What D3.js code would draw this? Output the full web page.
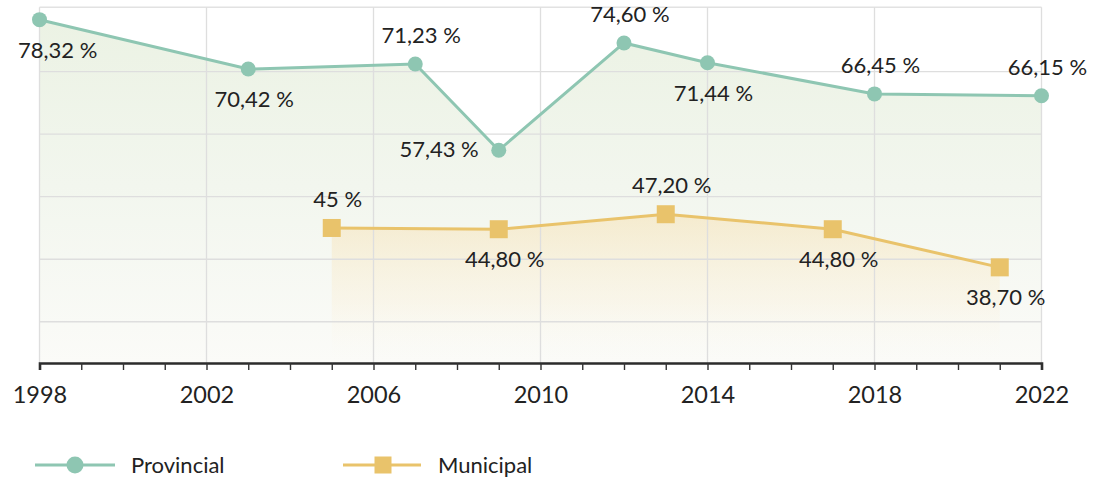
<!DOCTYPE html>
<html>
<head>
<meta charset="utf-8">
<script src="https://cdn.jsdelivr.net/npm/d3@7"></script>
<style>
  html, body { margin: 0; padding: 0; background: #ffffff; }
  svg { display: block; }
  text { font-family: Lato, "Open Sans", sans-serif; fill: #222; }
</style>
</head>
<body>
<svg id="chart" width="1096" height="479"></svg>
<script>
// ---- data ----
const provincialYears = [1998, 2003, 2007, 2009, 2012, 2014, 2018, 2022];
const provincialValues = [78.32, 70.42, 71.23, 57.43, 74.60, 71.44, 66.45, 66.15];
const provincialLabels = ["78,32 %", "70,42 %", "71,23 %", "57,43 %", "74,60 %", "71,44 %", "66,45 %", "66,15 %"];

const municipalYears = [2005, 2009, 2013, 2017, 2021];
const municipalValues = [45, 44.80, 47.20, 44.80, 38.70];
const municipalLabels = ["45 %", "44,80 %", "47,20 %", "44,80 %", "38,70 %"];

const xTickLabels = ["1998", "2002", "2006", "2010", "2014", "2018", "2022"];
const yGridValues = [30, 40, 50, 60, 70];
const seriesNames = ["Provincial", "Municipal"];

// label placement (layout config)
const provincialPlacement = ["below", "below", "above", "left", "above", "below", "above", "above"];
const municipalPlacement = ["above", "below", "above", "below", "below"];

// ---- layout ----
const GREEN = "#8ec6b2";
const YELLOW = "#e9c36b";
const svg = d3.select("#chart");

const x = d3.scaleLinear().domain([1998, 2022]).range([39.5, 1041.5]);
const y = d3.scaleLinear().domain([23.4, 80.3]).range([363, 7.3]);
const baseY = y.range()[0];
const topY = y.range()[1];

const defs = svg.append("defs");
const gP = defs.append("linearGradient").attr("id", "gradP")
  .attr("gradientUnits", "userSpaceOnUse")
  .attr("x1", 0).attr("x2", 0).attr("y1", topY).attr("y2", baseY);
gP.append("stop").attr("offset", 0).attr("stop-color", "#ebf2e3");
gP.append("stop").attr("offset", 0.5).attr("stop-color", "#f2f6ee");
gP.append("stop").attr("offset", 1).attr("stop-color", "#fbfbf8");

const gM = defs.append("linearGradient").attr("id", "gradM")
  .attr("gradientUnits", "userSpaceOnUse")
  .attr("x1", 0).attr("x2", 0).attr("y1", y(47.2)).attr("y2", baseY);
gM.append("stop").attr("offset", 0).attr("stop-color", "#f6e3b8").attr("stop-opacity", 0.6);
gM.append("stop").attr("offset", 0.6).attr("stop-color", "#faefd6").attr("stop-opacity", 0.35);
gM.append("stop").attr("offset", 1).attr("stop-color", "#fdfaf2").attr("stop-opacity", 0);

const prov = provincialYears.map((yr, i) => ({ x: yr, v: provincialValues[i], label: provincialLabels[i], pos: provincialPlacement[i] }));
const muni = municipalYears.map((yr, i) => ({ x: yr, v: municipalValues[i], label: municipalLabels[i], pos: municipalPlacement[i] }));

// areas
const area = d3.area().x(d => x(d.x)).y0(baseY).y1(d => y(d.v));
svg.append("path").datum(prov).attr("d", area).attr("fill", "url(#gradP)");
svg.append("path").datum(muni).attr("d", area).attr("fill", "url(#gradM)");

// grid
const grid = svg.append("g");
grid.selectAll("line.h").data(yGridValues).join("line")
  .attr("x1", x(1998)).attr("x2", x(2022))
  .attr("y1", d => y(d)).attr("y2", d => y(d))
  .attr("stroke", "#dedede").attr("stroke-width", 1.3);
grid.append("line").attr("x1", x(1998)).attr("x2", x(2022))
  .attr("y1", topY).attr("y2", topY).attr("stroke", "#e2e2e2").attr("stroke-width", 1.5);
grid.selectAll("line.v").data(xTickLabels).join("line")
  .attr("x1", d => x(+d)).attr("x2", d => x(+d))
  .attr("y1", topY).attr("y2", baseY)
  .attr("stroke", "#dedede").attr("stroke-width", 1.3);

// x axis
const axis = d3.axisBottom(x)
  .tickValues(d3.range(1998, 2023, 1))
  .tickSize(7)
  .tickFormat(d => xTickLabels.includes(String(d)) ? String(d) : "");
const ax = svg.append("g").attr("transform", `translate(0,${baseY})`).call(axis);
ax.select(".domain").attr("stroke", "#2b2b2b").attr("stroke-width", 2.6);
ax.selectAll(".tick line").attr("stroke", "#333").attr("stroke-width", 1.4);
ax.selectAll(".tick text").attr("y", 32).attr("dy", "0.34em")
  .style("font-family", "Lato, sans-serif").style("font-size", "23.5px").attr("fill", "#222");

// lines
const line = d3.line().x(d => x(d.x)).y(d => y(d.v));
svg.append("path").datum(prov).attr("d", line).attr("fill", "none")
  .attr("stroke", GREEN).attr("stroke-width", 3);
svg.append("path").datum(muni).attr("d", line).attr("fill", "none")
  .attr("stroke", YELLOW).attr("stroke-width", 3);

// markers
svg.selectAll("circle.p").data(prov).join("circle")
  .attr("cx", d => x(d.x)).attr("cy", d => y(d.v)).attr("r", 7.5).attr("fill", GREEN);
const S = 18;
svg.selectAll("rect.m").data(muni).join("rect")
  .attr("x", d => x(d.x) - S / 2).attr("y", d => y(d.v) - S / 2)
  .attr("width", S).attr("height", S).attr("fill", YELLOW);

// labels
function addLabels(data) {
  svg.selectAll(null).data(data).join("text")
    .attr("font-size", 22)
    .attr("fill", "#222")
    .attr("text-anchor", d => d.pos === "left" ? "end" : "middle")
    .attr("x", d => d.pos === "left" ? x(d.x) - 20 : x(d.x) + 6)
    .attr("y", d => d.pos === "above" ? y(d.v) - 21 : d.pos === "below" ? y(d.v) + 38 : y(d.v) + 7)
    .text(d => d.label)
    .each(function () {
      const bb = this.getBBox();
      if (bb.x < 18) d3.select(this).attr("x", +d3.select(this).attr("x") + (18 - bb.x));
      if (bb.x + bb.width > 1091) d3.select(this).attr("x", +d3.select(this).attr("x") - (bb.x + bb.width - 1091));
    });
}
addLabels(prov);
addLabels(muni);

// legend
const legend = svg.append("g");
const ly = 465;
legend.append("line").attr("x1", 35).attr("x2", 115).attr("y1", ly).attr("y2", ly)
  .attr("stroke", GREEN).attr("stroke-width", 3);
legend.append("circle").attr("cx", 75).attr("cy", ly).attr("r", 8.5).attr("fill", GREEN);
legend.append("text").attr("x", 131).attr("y", ly + 7.5).attr("font-size", 22).text(seriesNames[0]);
legend.append("line").attr("x1", 343).attr("x2", 421).attr("y1", ly).attr("y2", ly)
  .attr("stroke", YELLOW).attr("stroke-width", 3);
legend.append("rect").attr("x", 383 - 8.5).attr("y", ly - 8.5).attr("width", 17).attr("height", 17).attr("fill", YELLOW);
legend.append("text").attr("x", 438).attr("y", ly + 7.5).attr("font-size", 22).text(seriesNames[1]);
</script>
</body>
</html>
